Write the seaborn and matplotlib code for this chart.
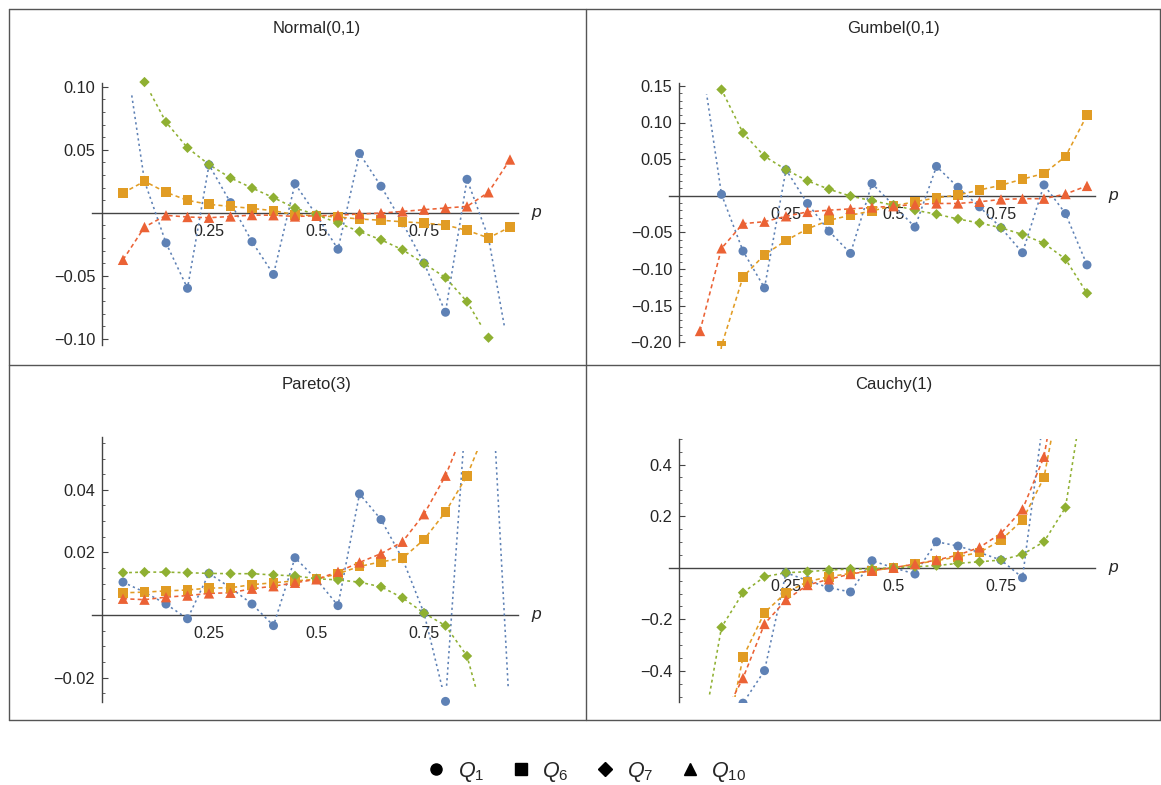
import numpy as np
import pandas as pd
import seaborn as sns
import matplotlib.pyplot as plt
from matplotlib.lines import Line2D
from matplotlib.patches import Rectangle

sns.set_style('white')
plt.rcParams['font.family'] = ['Liberation Sans', 'DejaVu Sans']
plt.rcParams['mathtext.fontset'] = 'custom'
plt.rcParams['mathtext.it'] = 'Liberation Sans:italic'
plt.rcParams['mathtext.rm'] = 'Liberation Sans'

# probabilities p
p = [0.05, 0.10, 0.15, 0.20, 0.25, 0.30, 0.35, 0.40, 0.45, 0.50,
     0.55, 0.60, 0.65, 0.70, 0.75, 0.80, 0.85, 0.90, 0.95]

series = ['Q1', 'Q6', 'Q7', 'Q10']
legend_labels = [r'$Q_{1}$', r'$Q_{6}$', r'$Q_{7}$', r'$Q_{10}$']

# Normal(0,1)
normal_q1 = [0.14, 0.025, -0.024, -0.060, 0.038, 0.008, -0.023, -0.049, 0.023, -0.002,
             -0.029, 0.047, 0.021, -0.008, -0.040, -0.079, 0.0265, -0.020, -0.115]
normal_q6 = [0.0157, 0.0249, 0.0162, 0.0098, 0.0066, 0.0050, 0.0034, 0.0016, -0.0016, -0.0024,
             -0.0034, -0.0050, -0.0060, -0.0072, -0.0082, -0.0098, -0.0140, -0.0200, -0.0114]
normal_q7 = [0.20, 0.1037, 0.0719, 0.0515, 0.0382, 0.0276, 0.0196, 0.0119, 0.0037, -0.0016,
             -0.0082, -0.0149, -0.0215, -0.0294, -0.0403, -0.0515, -0.0706, -0.0992, -0.16]
normal_q10 = [-0.0374, -0.0114, -0.0021, -0.0034, -0.0040, -0.0030, -0.0019, -0.0020, -0.0030, -0.0024,
              -0.0020, -0.0010, -0.0003, 0.0010, 0.0024, 0.0037, 0.0050, 0.0162, 0.0422]

# Gumbel(0,1)
gumbel_q1 = [0.20, 0.0018, -0.0756, -0.126, 0.0355, -0.0106, -0.0484, -0.0788, 0.0166, -0.013,
             -0.0429, 0.040, 0.0115, -0.0152, -0.0438, -0.0779, 0.0147, -0.0244, -0.0945]
gumbel_q6 = [-0.45, -0.205, -0.111, -0.0806, -0.0613, -0.0452, -0.0336, -0.0267, -0.0207, -0.0138,
             -0.0083, -0.0028, 0.0009, 0.0078, 0.0143, 0.0226, 0.0304, 0.0535, 0.110]
gumbel_q7 = [0.25, 0.145, 0.0857, 0.0539, 0.0355, 0.0203, 0.0088, -0.0005, -0.0069, -0.0129,
             -0.0198, -0.0253, -0.0318, -0.0373, -0.0438, -0.053, -0.065, -0.0866, -0.1332]
gumbel_q10 = [-0.1848, -0.0719, -0.0382, -0.0355, -0.0281, -0.0221, -0.0198, -0.018, -0.0161, -0.0143,
              -0.012, -0.0106, -0.0106, -0.0083, -0.0051, -0.0041, -0.0041, 0.0023, 0.0134]

# Pareto(3)
pareto_q1 = [0.0105, 0.0073, 0.0035, -0.0012, 0.0133, 0.0087, 0.0035, -0.0034, 0.0183, 0.0114,
             0.0030, 0.0387, 0.0305, 0.0180, 0.0006, -0.0276, 0.070, 0.095, -0.034]
pareto_q6 = [0.0071, 0.0073, 0.0077, 0.0080, 0.0086, 0.0087, 0.0097, 0.0103, 0.0109, 0.0114,
             0.0132, 0.0155, 0.0170, 0.0181, 0.0241, 0.0329, 0.0445, 0.0613, 0.090]
pareto_q7 = [0.0135, 0.0137, 0.0137, 0.0135, 0.0133, 0.0132, 0.0132, 0.0128, 0.0125, 0.0116,
             0.0112, 0.0105, 0.0090, 0.0055, 0.0006, -0.0034, -0.0131, -0.038, -0.07]
pareto_q10 = [0.0052, 0.0049, 0.0057, 0.0062, 0.0069, 0.0071, 0.0084, 0.0092, 0.0103, 0.0114,
              0.0138, 0.0168, 0.0196, 0.0234, 0.0322, 0.0445, 0.0614, 0.09, 0.13]

# Cauchy(1)
cauchy_q1 = [-3.0, -1.0, -0.525, -0.399, -0.0194, -0.050, -0.0774, -0.094, 0.027, 0.0,
             -0.0245, 0.1006, 0.0839, 0.059, 0.0297, -0.0387, 0.60, 1.5, 3.0]
cauchy_q6 = [-2.0, -0.76, -0.347, -0.174, -0.0968, -0.054, -0.0348, -0.022, -0.0116, 0.0,
             0.0142, 0.027, 0.0426, 0.059, 0.107, 0.1845, 0.3497, 0.79, 2.0]
cauchy_q7 = [-0.70, -0.231, -0.0968, -0.0348, -0.0194, -0.0155, -0.009, -0.005, -0.005, 0.0,
             0.004, 0.008, 0.0168, 0.023, 0.0297, 0.0516, 0.1006, 0.2335, 0.76]
cauchy_q10 = [-1.5, -0.59, -0.428, -0.218, -0.125, -0.067, -0.045, -0.0245, -0.0116, 0.0,
              0.0142, 0.0297, 0.049, 0.0787, 0.133, 0.226, 0.43, 0.91, 2.5]

colors = {'Q1': '#5E81B5', 'Q6': '#E19C24', 'Q7': '#8FB032', 'Q10': '#EB6235'}
markers = {'Q1': 'o', 'Q6': 's', 'Q7': 'D', 'Q10': '^'}
sizes = {'Q1': 42, 'Q6': 50, 'Q7': 28, 'Q10': 56}
dashes = {'Q1': (1.4, 2.0), 'Q6': (2.6, 2.0), 'Q7': (1.8, 2.0), 'Q10': (2.6, 2.0)}

panels = [
    dict(title='Normal(0,1)', vals=[normal_q1, normal_q6, normal_q7, normal_q10],
         origin=(101.5, 212.7), sy=1260, ylim=(-0.108, 0.108), spine=(-0.105, 0.103),
         clip=(-0.091, 0.095), major=[-0.10, -0.05, 0.05, 0.10],
         labels=['\u22120.10', '\u22120.05', '0.05', '0.10'], minor=0.01, title_y=28),
    dict(title='Gumbel(0,1)', vals=[gumbel_q1, gumbel_q6, gumbel_q7, gumbel_q10],
         origin=(678.5, 195.7), sy=732, ylim=(-0.205, 0.158), spine=(-0.205, 0.1535),
         clip=(-0.21, 0.139), major=[-0.20, -0.15, -0.10, -0.05, 0.05, 0.10, 0.15],
         labels=['\u22120.20', '\u22120.15', '\u22120.10', '\u22120.05', '0.05', '0.10', '0.15'],
         minor=0.01, title_y=28),
    dict(title='Pareto(3)', vals=[pareto_q1, pareto_q6, pareto_q7, pareto_q10],
         origin=(101.5, 615.0), sy=3130, ylim=(-0.030, 0.059), spine=(-0.0278, 0.057),
         clip=(-0.023, 0.0525), major=[-0.02, 0.02, 0.04],
         labels=['\u22120.02', '0.02', '0.04'], minor=0.005, title_y=385),
    dict(title='Cauchy(1)', vals=[cauchy_q1, cauchy_q6, cauchy_q7, cauchy_q10],
         origin=(678.5, 567.7), sy=258, ylim=(-0.525, 0.52), spine=(-0.519, 0.50),
         clip=(-0.50, 0.50), major=[-0.4, -0.2, 0.2, 0.4],
         labels=['\u22120.4', '\u22120.2', '0.2', '0.4'], minor=0.05, title_y=385),
]

W, H = 1161, 785
SX = 430
xlim = (-0.021, 0.968)
axis_col = '#444444'

fig = plt.figure(figsize=(W / 100, H / 100), dpi=100)

for pn in panels:
    ox, oy = pn['origin']
    left = ox + SX * xlim[0]
    right = ox + SX * xlim[1]
    top = oy - pn['sy'] * pn['ylim'][1]
    bottom = oy - pn['sy'] * pn['ylim'][0]
    ax = fig.add_axes([left / W, 1 - bottom / H, (right - left) / W, (bottom - top) / H])
    ax.set_facecolor('none')

    df = pd.DataFrame({
        'p': p * 4,
        'value': sum(pn['vals'], []),
        'series': [s for s in series for _ in p],
    })

    sns.lineplot(data=df, x='p', y='value', hue='series', style='series',
                 hue_order=series, style_order=series, palette=colors, dashes=dashes,
                 linewidth=1.15, errorbar=None, legend=False, ax=ax)
    clip_rect = Rectangle((xlim[0], pn['clip'][0]), xlim[1] - xlim[0],
                          pn['clip'][1] - pn['clip'][0], transform=ax.transData)
    for ln in ax.lines:
        ln.set_clip_path(clip_rect)

    sns.scatterplot(data=df, x='p', y='value', hue='series', style='series', size='series',
                    hue_order=series, style_order=series, size_order=series,
                    palette=colors, markers=markers, sizes=sizes,
                    edgecolor='none', linewidth=0, legend=False, ax=ax, zorder=3)

    ax.set_xlim(*xlim)
    ax.set_ylim(*pn['ylim'])
    ax.set_xlabel('')
    ax.set_ylabel('')

    for side in ['top', 'right']:
        ax.spines[side].set_visible(False)
    ax.spines['bottom'].set_position(('data', 0))
    ax.spines['left'].set_position(('data', 0))
    ax.spines['left'].set_bounds(*pn['spine'])
    for side in ['bottom', 'left']:
        ax.spines[side].set_color(axis_col)
        ax.spines[side].set_linewidth(1.0)
        ax.spines[side].set_zorder(1)

    ax.set_xticks([0.25, 0.5, 0.75], ['0.25', '0.5', '0.75'])
    ax.set_yticks(pn['major'], pn['labels'])
    lo, hi = pn['spine']
    step = pn['minor']
    minor = [t for t in np.round(np.arange(np.ceil(lo / step) * step, hi + 1e-9, step), 4)
             if abs(t) > 1e-9]
    ax.set_yticks(minor, minor=True)
    ax.tick_params(axis='x', which='major', direction='in', length=4, width=0.8,
                   color=axis_col, pad=8, labelsize=11.5)
    ax.tick_params(axis='y', which='major', direction='in', length=4, width=0.8,
                   color=axis_col, pad=4.5, labelsize=11.8, left=True)
    ax.tick_params(axis='y', which='minor', direction='in', length=2, width=0.6,
                   color=axis_col, left=True)

    ax.text(1.012, 0, 'p', fontsize=12.5, fontstyle='italic', ha='center', va='center',
            transform=ax.transData, clip_on=False)
    fig.text((ox + SX * 0.5) / W, 1 - pn['title_y'] / H, pn['title'],
             fontsize=12, ha='center', va='center')

# panel frame
frame = [((8.5, 8.5), (1159.5, 8.5)), ((8.5, 720), (1159.5, 720)), ((8.5, 365), (1159.5, 365)),
         ((8.5, 8.5), (8.5, 720)), ((1159.5, 8.5), (1159.5, 720)), ((586, 8.5), (586, 720))]
for (x0, y0), (x1, y1) in frame:
    fig.add_artist(Line2D([x0 / W, x1 / W], [1 - y0 / H, 1 - y1 / H],
                          color='#555555', linewidth=1.0, transform=fig.transFigure))

handles = [Line2D([], [], linestyle='none', marker=markers[s], color='black',
                  markersize=8 if s != 'Q7' else 7) for s in series]
fig.legend(handles, legend_labels, loc='center', bbox_to_anchor=(587 / W, 1 - 772 / H),
           ncol=4, frameon=False, fontsize=15.5, handlelength=0.8, handletextpad=0.6,
           columnspacing=1.3)

plt.savefig('out.png', dpi=100)
